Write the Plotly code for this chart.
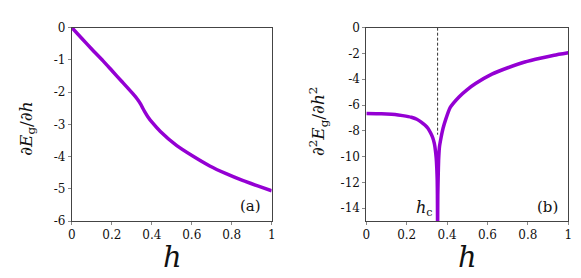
import plotly.graph_objects as go
from plotly.subplots import make_subplots

# Panel (a): first derivative
h_a = [0, 0.05, 0.1, 0.156, 0.2, 0.25, 0.304, 0.328, 0.345, 0.355, 0.365,
       0.38, 0.402, 0.443, 0.525, 0.607, 0.69, 0.772, 0.854, 0.93, 1.0]
dE = [0, -0.335, -0.67, -1.03, -1.33, -1.67, -2.04, -2.22, -2.38, -2.5, -2.61,
      -2.76, -2.94, -3.22, -3.66, -3.99, -4.29, -4.53, -4.74, -4.91, -5.06]

# Panel (b): second derivative
h_b = [0, 0.05, 0.1, 0.142, 0.18, 0.223, 0.25, 0.272, 0.29, 0.305, 0.318, 0.329,
       0.337, 0.342, 0.346, 0.349, 0.351, 0.352, 0.353,
       0.354, 0.356, 0.358, 0.362, 0.37, 0.38, 0.394, 0.415, 0.459, 0.5, 0.541,
       0.622, 0.704, 0.785, 0.867, 0.93, 1.0]
d2E = [-6.66, -6.67, -6.69, -6.73, -6.82, -6.95, -7.1, -7.32, -7.55, -7.8, -8.15, -8.54,
       -9.0, -9.5, -10.1, -10.9, -11.8, -13.0, -16.0,
       -13.0, -11.5, -10.3, -9.27, -8.54, -7.8, -7.07, -6.2, -5.37, -4.8, -4.33,
       -3.6, -3.09, -2.66, -2.35, -2.14, -1.95]

h_c = 0.353
dash_y = [0, -8.3]

x_ticks = [0, 0.2, 0.4, 0.6, 0.8, 1]
x_labels = ["0", "0.2", "0.4", "0.6", "0.8", "1"]
ya_ticks = [0, -1, -2, -3, -4, -5, -6]
ya_labels = ["0", "-1", "-2", "-3", "-4", "-5", "-6"]
yb_ticks = [0, -2, -4, -6, -8, -10, -12, -14]
yb_labels = ["0", "-2", "-4", "-6", "-8", "-10", "-12", "-14"]

PURPLE = "#9400D3"
SERIF = "DejaVu Serif"

fig = make_subplots(rows=1, cols=2)

fig.add_trace(go.Scatter(x=h_a, y=dE, mode="lines",
                         line=dict(color=PURPLE, width=3.5, shape="spline", smoothing=0.6),
                         showlegend=False), row=1, col=1)
fig.add_trace(go.Scatter(x=[h_c, h_c], y=dash_y, mode="lines",
                         line=dict(color="#333", width=1, dash="3px,2px"),
                         showlegend=False), row=1, col=2)
fig.add_trace(go.Scatter(x=h_b, y=d2E, mode="lines",
                         line=dict(color=PURPLE, width=3.5, shape="spline", smoothing=0.5),
                         showlegend=False), row=1, col=2)

axis_common = dict(showline=True, mirror=True, linecolor="#444", linewidth=1,
                   ticks="outside", ticklen=3, tickcolor="#888", showgrid=False,
                   zeroline=False, tickfont=dict(family=SERIF, size=12, color="#111"))

fig.update_xaxes(**axis_common, range=[0, 1], tickvals=x_ticks, ticktext=x_labels)
fig.update_xaxes(domain=[0.1045, 0.4532], row=1, col=1)
fig.update_xaxes(domain=[0.6184, 0.9707], row=1, col=2)
fig.update_yaxes(**axis_common, domain=[0.2194, 0.952])
fig.update_yaxes(range=[-6, 0], tickvals=ya_ticks, ticktext=ya_labels, row=1, col=1)
fig.update_yaxes(range=[-15, 0], tickvals=yb_ticks, ticktext=yb_labels, row=1, col=2)

ann = [
    dict(text="<i>h</i>", x=163, y=255, size=29),
    dict(text="<i>h</i>", x=462, y=255, size=29),
    dict(text="∂<i>E</i><sub>g</sub>/∂<i>h</i>", x=16, y=120, size=17, angle=-90),
    dict(text="∂<sup>2</sup><i>E</i><sub>g</sub>/∂<i>h</i><sup>2</sup>", x=311, y=112, size=17, angle=-90),
    dict(text="(a)", x=242, y=201, size=15),
    dict(text="(b)", x=543, y=202, size=15),
    dict(text="<i>h</i><sub>c</sub>", x=418, y=204, size=16),
]
for a in ann:
    fig.add_annotation(text=a["text"], x=a["x"] / 581, y=1 - a["y"] / 278,
                       xref="paper", yref="paper", xanchor="center", yanchor="middle",
                       showarrow=False, textangle=a.get("angle", 0),
                       font=dict(family=SERIF, size=a["size"], color="#111"))

fig.update_layout(width=581, height=278, margin=dict(l=0, r=0, t=0, b=0),
                  font=dict(family=SERIF),
                  paper_bgcolor="white", plot_bgcolor="white")

fig.write_html("out.html")
